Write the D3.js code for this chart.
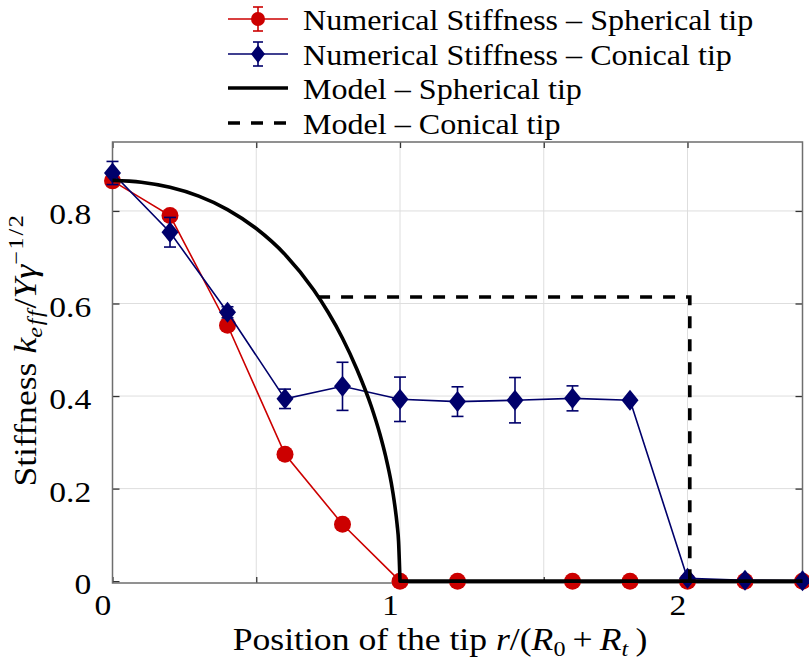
<!DOCTYPE html>
<html><head><meta charset="utf-8">
<script src="https://cdn.jsdelivr.net/npm/d3@7"></script>
<style>body{margin:0;background:#fff}svg{display:block}</style>
</head><body>
<svg id="chart" width="809" height="664"></svg>
<script>
// ---- data ----
const positions = [0, 0.2, 0.4, 0.6, 0.8, 1.0, 1.2, 1.4, 1.6, 1.8, 2.0, 2.2, 2.4];
const sphericalStiffness = [0.865, 0.790, 0.553, 0.274, 0.123, 0, 0, -0.008, 0, 0, 0, 0, 0];
const sphericalError = [0, 0, 0, 0, 0, 0, 0, 0, 0, 0, 0, 0, 0];
const conicalStiffness = [0.882, 0.754, 0.581, 0.394, 0.421, 0.393, 0.388, 0.391, 0.395, 0.391, 0.006, 0.002, 0.001];
const conicalError = [0.025, 0.032, 0.012, 0.021, 0.052, 0.048, 0.032, 0.049, 0.027, 0.004, 0, 0, 0];
const modelSphericalX = [0, 0.1, 0.2, 0.3, 0.4, 0.5, 0.6, 0.7, 0.75, 0.8, 0.85, 0.9, 0.93, 0.95, 0.97, 0.98, 0.99, 0.995, 1.0];
const modelSphericalY = [0.866, 0.862, 0.851, 0.832, 0.803, 0.762, 0.706, 0.629, 0.581, 0.525, 0.458, 0.378, 0.318, 0.270, 0.211, 0.172, 0.122, 0.086, 0];
const modelSphericalTailX = [1.0, 2.4];
const modelSphericalTailY = [0, 0];
const modelConicalX = [0.715, 2.008, 2.008];
const modelConicalY = [0.614, 0.614, 0];
const xTickValues = [0, 0.5, 1, 1.5, 2];
const xTickLabels = ["0", "", "1", "", "2"];
const yTickValues = [0, 0.2, 0.4, 0.6, 0.8];
const yTickLabels = ["0", "0.2", "0.4", "0.6", "0.8"];
const legendLabels = ["Numerical Stiffness – Spherical tip", "Numerical Stiffness – Conical tip", "Model – Spherical tip", "Model – Conical tip"];

// ---- setup ----
const W = 809, H = 664;
const margin = {left: 112.5, top: 142, right: 6.5, bottom: 81};
const RED = "#cc0000", NAVY = "#00006b";
const FONT = "'Liberation Serif', 'Times New Roman', serif";
const SX = 1.12;
const svg = d3.select("#chart");
const x = d3.scaleLinear().domain([0, 2.4]).range([margin.left, W - margin.right]);
const y = d3.scaleLinear().domain([-0.004, 0.949]).range([H - margin.bottom, margin.top]);
const [x0, x1] = x.range(), [y0, y1] = y.range();

svg.append("defs").append("clipPath").attr("id", "clip")
  .append("rect").attr("x", x0).attr("y", y1).attr("width", x1 - x0).attr("height", y0 - y1);

// grid
const grid = svg.append("g").attr("stroke", "#dedede").attr("stroke-width", 1);
xTickValues.filter(v => v > 0).forEach(v => grid.append("line")
  .attr("x1", x(v)).attr("x2", x(v)).attr("y1", y1).attr("y2", y0));
yTickValues.filter(v => v > 0).forEach(v => grid.append("line")
  .attr("x1", x0).attr("x2", x1).attr("y1", y(v)).attr("y2", y(v)));

// axes
function styleAxis(g) {
  g.select(".domain").remove();
  g.attr("font-family", FONT);
  g.selectAll(".tick line").attr("stroke", "#333").attr("stroke-width", 1.3);
  g.selectAll(".tick text").attr("font-family", FONT).attr("font-size", 30).attr("fill", "#000")
    .attr("transform", `scale(${SX},1)`);
}
svg.append("g").attr("transform", `translate(0,${y0})`)
  .call(d3.axisBottom(x).tickValues(xTickValues).tickSize(-6).tickPadding(11)
    .tickFormat((d, i) => xTickLabels[i]))
  .call(styleAxis)
  .call(g => g.selectAll(".tick text").attr("dx", -9));
svg.append("g").attr("transform", `translate(0,${y1})`)
  .call(d3.axisTop(x).tickValues(xTickValues).tickSize(-6).tickFormat(""))
  .call(styleAxis);
svg.append("g").attr("transform", `translate(${x0},0)`)
  .call(d3.axisLeft(y).tickValues(yTickValues).tickSize(-7).tickPadding(19)
    .tickFormat((d, i) => yTickLabels[i]))
  .call(styleAxis)
  .call(g => g.selectAll(".tick text").attr("dy", "0.42em"));
svg.append("g").attr("transform", `translate(${x1},0)`)
  .call(d3.axisRight(y).tickValues(yTickValues).tickSize(-7).tickFormat(""))
  .call(styleAxis);

// frame
svg.append("rect").attr("x", x0).attr("y", y1).attr("width", x1 - x0).attr("height", y0 - y1)
  .attr("fill", "none").attr("stroke", "#6e6e6e").attr("stroke-width", 1.5);

// series
const line = d3.line().x(d => x(d[0])).y(d => y(d[1]));
const redPts = positions.map((p, i) => [p, sphericalStiffness[i], sphericalError[i]]);
const bluePts = positions.map((p, i) => [p, conicalStiffness[i], conicalError[i]]);
const inRange = d => d[1] >= y.domain()[0];

svg.append("path").datum(redPts).attr("d", line).attr("clip-path", "url(#clip)")
  .attr("fill", "none").attr("stroke", RED).attr("stroke-width", 1.6);
svg.append("g").selectAll("circle").data(redPts.filter(inRange)).join("circle")
  .attr("cx", d => x(d[0])).attr("cy", d => y(d[1])).attr("r", 8.5).attr("fill", RED);

function errorBars(pts, color) {
  const g = svg.append("g").attr("stroke", color).attr("stroke-width", 1.6);
  pts.filter(d => d[2] > 0).forEach(d => {
    const cx = x(d[0]), t = y(d[1] + d[2]), b = y(d[1] - d[2]);
    g.append("line").attr("x1", cx).attr("x2", cx).attr("y1", t).attr("y2", b);
    g.append("line").attr("x1", cx - 6).attr("x2", cx + 6).attr("y1", t).attr("y2", t);
    g.append("line").attr("x1", cx - 6).attr("x2", cx + 6).attr("y1", b).attr("y2", b);
  });
}
errorBars(redPts, RED);

const diamond = "M0,-10.5L8.5,0L0,10.5L-8.5,0Z";
svg.append("path").datum(bluePts).attr("d", line).attr("clip-path", "url(#clip)")
  .attr("fill", "none").attr("stroke", NAVY).attr("stroke-width", 1.6);
errorBars(bluePts, NAVY);
svg.append("g").selectAll("path").data(bluePts.filter(inRange)).join("path")
  .attr("d", diamond).attr("transform", d => `translate(${x(d[0])},${y(d[1])})`).attr("fill", NAVY);

// models
const smooth = d3.line().x(d => x(d[0])).y(d => y(d[1])).curve(d3.curveMonotoneX);
const curvePart = smooth(modelSphericalX.map((v, i) => [v, modelSphericalY[i]]));
const tailPart = line(modelSphericalTailX.map((v, i) => [v, modelSphericalTailY[i]])).replace(/^M/, "L");
svg.append("path").attr("d", curvePart + tailPart)
  .attr("fill", "none").attr("stroke", "#000").attr("stroke-width", 3.6).attr("stroke-linejoin", "round");
svg.append("path").datum(modelConicalX.map((v, i) => [v, modelConicalY[i]])).attr("d", line)
  .attr("fill", "none").attr("stroke", "#000").attr("stroke-width", 3.6).attr("stroke-dasharray", "12,11");

// axis labels
const xl = svg.append("text").attr("transform", `translate(440,650) scale(1.15,1)`).attr("text-anchor", "middle")
  .attr("font-family", FONT).attr("font-size", 31);
xl.append("tspan").text("Position of the tip ");
xl.append("tspan").attr("font-style", "italic").text("r");
xl.append("tspan").text("/(");
xl.append("tspan").attr("font-style", "italic").text("R");
xl.append("tspan").attr("font-size", 21).attr("dy", 6).text("0");
xl.append("tspan").attr("dy", -6).text("\u2009+\u2009");
xl.append("tspan").attr("font-style", "italic").text("R");
xl.append("tspan").attr("font-size", 21).attr("font-style", "italic").attr("dy", 6).text("t");
xl.append("tspan").attr("dy", -6).text("\u2009)");

const yl = svg.append("text").attr("transform", `translate(36,350) rotate(-90) scale(1.15,1)`).attr("text-anchor", "middle")
  .attr("font-family", FONT).attr("font-size", 31);
yl.append("tspan").text("Stiffness ");
yl.append("tspan").attr("font-style", "italic").text("k");
yl.append("tspan").attr("font-size", 21).attr("font-style", "italic").attr("dy", 6).attr("letter-spacing", 1.5).text("eff");
yl.append("tspan").attr("dy", -6).text("/");
yl.append("tspan").attr("font-style", "italic").text("Yγ");
yl.append("tspan").attr("font-size", 21).attr("dy", -13).attr("letter-spacing", 1.5).text("−1/2");

// legend
const leg = svg.append("g");
const rowY = [19, 54, 88, 123];
legendLabels.forEach((lab, i) => {
  const g = leg.append("g").attr("transform", `translate(0,${rowY[i]})`);
  if (i < 2) {
    const c = i === 0 ? RED : NAVY;
    g.append("line").attr("x1", 228).attr("x2", 288).attr("stroke", c).attr("stroke-width", 1.6);
    g.append("line").attr("x1", 258).attr("x2", 258).attr("y1", -12).attr("y2", 12).attr("stroke", c).attr("stroke-width", 1.6);
    g.append("line").attr("x1", 253).attr("x2", 263).attr("y1", -12).attr("y2", -12).attr("stroke", c).attr("stroke-width", 1.6);
    g.append("line").attr("x1", 253).attr("x2", 263).attr("y1", 12).attr("y2", 12).attr("stroke", c).attr("stroke-width", 1.6);
    if (i === 0) g.append("circle").attr("cx", 258).attr("r", 7).attr("fill", c);
    else g.append("path").attr("d", "M0,-9L7,0L0,9L-7,0Z").attr("transform", "translate(258,0)").attr("fill", c);
  } else {
    g.append("line").attr("x1", 228).attr("x2", 288).attr("stroke", "#000").attr("stroke-width", 3.6)
      .attr("stroke-dasharray", i === 3 ? "12,11" : null);
  }
  g.append("text").attr("transform", "translate(303,0) scale(1.07,1)").attr("dy", "0.35em")
    .attr("font-family", FONT).attr("font-size", 30).text(lab);
});
</script>
</body></html>
